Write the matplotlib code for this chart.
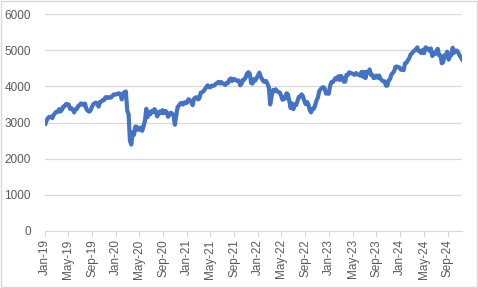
import numpy as np
import pandas as pd
import matplotlib
matplotlib.use("Agg")
import matplotlib.pyplot as plt
import matplotlib.dates as mdates
from matplotlib.patches import Rectangle

# weekly closes
v2019 = [2970, 3070, 3135, 3160, 3160, 3120, 3215, 3260, 3300, 3290, 3370, 3305, 3350,
         3440, 3450, 3510, 3510, 3500, 3380, 3400, 3360, 3280, 3370, 3375, 3460, 3475,
         3530, 3510, 3480, 3525, 3375, 3330, 3300, 3330, 3425, 3500, 3535, 3550, 3520,
         3440, 3570, 3580, 3620, 3620, 3700, 3700, 3680, 3700, 3690, 3730, 3775, 3780]
v2020 = [3775, 3795, 3810, 3780, 3640, 3800, 3840, 3860, 3330, 3230, 2500, 2390, 2730,
         2660, 2890, 2880, 2800, 2810, 2860, 2770, 2900, 3050, 3380, 3150, 3290, 3230,
         3320, 3290, 3370, 3310, 3170, 3250, 3310, 3260, 3340, 3260, 3320, 3290, 3160,
         3220, 3270, 3250, 3190, 2940, 3200, 3430, 3470, 3530, 3540, 3500, 3560, 3540]
v2021 = [3550, 3645, 3600, 3600, 3480, 3655, 3690, 3700, 3640, 3670, 3830, 3840, 3860,
         3920, 3980, 4030, 3980, 3975, 4020, 4015, 4025, 4070, 4095, 4125, 4080, 4120,
         4085, 4070, 4040, 4100, 4090, 4185, 4220, 4150, 4200, 4200, 4170, 4150, 4160,
         4030, 4080, 4180, 4190, 4250, 4360, 4390, 4350, 4090, 4080, 4200, 4160, 4230, 4300]
v2022 = [4380, 4270, 4200, 4140, 4120, 4150, 4070, 3970, 3500, 3720, 3900, 3870, 3920,
         3860, 3850, 3830, 3750, 3630, 3700, 3660, 3810, 3780, 3600, 3400, 3530, 3370,
         3500, 3480, 3590, 3710, 3720, 3780, 3730, 3600, 3510, 3570, 3500, 3350, 3280,
         3380, 3380, 3480, 3610, 3690, 3870, 3920, 3960, 3980, 3940, 3800, 3820, 3795]
v2023 = [4020, 4120, 4120, 4180, 4230, 4190, 4280, 4180, 4290, 4230, 4130, 4130, 4320,
         4310, 4390, 4370, 4360, 4340, 4320, 4370, 4330, 4320, 4300, 4400, 4270, 4400,
         4230, 4400, 4390, 4470, 4320, 4320, 4230, 4240, 4300, 4240, 4300, 4210, 4170,
         4140, 4140, 4020, 4020, 4170, 4200, 4330, 4370, 4420, 4540, 4550, 4530, 4520]
v2024 = [4460, 4480, 4450, 4640, 4650, 4720, 4770, 4880, 4910, 4960, 4990, 5030, 5080,
         4980, 4960, 4920, 5010, 4920, 5080, 5060, 5030, 4980, 5050, 4840, 4920, 4890,
         4980, 5040, 4860, 4860, 4640, 4670, 4860, 4880, 4960, 4740, 4840, 4870, 5070,
         4930, 4990, 4990, 4940, 4860, 4800, 4740]

values = v2019 + v2020 + v2021 + v2022 + v2023 + v2024
dates = pd.date_range("2019-01-04", periods=len(values), freq="W-FRI")

grey_text = "#595959"
grid_col = "#D9D9D9"

fig = plt.figure(figsize=(4.78, 2.88), dpi=100)
ax = fig.add_axes([0.094, 0.198, 0.873, 0.753])
ax.plot(dates, values, color="#4472C4", linewidth=3, solid_joinstyle="round")

ax.set_ylim(0, 6000)
ax.set_yticks(np.arange(0, 6001, 1000))
ax.set_xlim(pd.Timestamp("2019-01-01"), dates[-1])
ax.xaxis.set_major_locator(mdates.MonthLocator(bymonth=[1, 5, 9]))
ax.xaxis.set_major_formatter(mdates.DateFormatter("%b-%y"))

ax.grid(axis="y", color=grid_col, linewidth=0.9)
ax.set_axisbelow(True)
for s in ["top", "right", "left"]:
    ax.spines[s].set_visible(False)
ax.spines["bottom"].set_color(grid_col)
ax.tick_params(axis="y", length=0, labelsize=8.5, labelcolor=grey_text, pad=10)
ax.tick_params(axis="x", length=4, color=grid_col, labelsize=8.5, labelcolor=grey_text,
               labelrotation=90, pad=2)
for lab in ax.get_xticklabels() + ax.get_yticklabels():
    lab.set_family("Liberation Sans")

fig.patches.append(Rectangle((0.002, 0.003), 0.995, 0.993, transform=fig.transFigure,
                             fill=False, edgecolor=grid_col, linewidth=1))

fig.savefig("out.png", dpi=100)
